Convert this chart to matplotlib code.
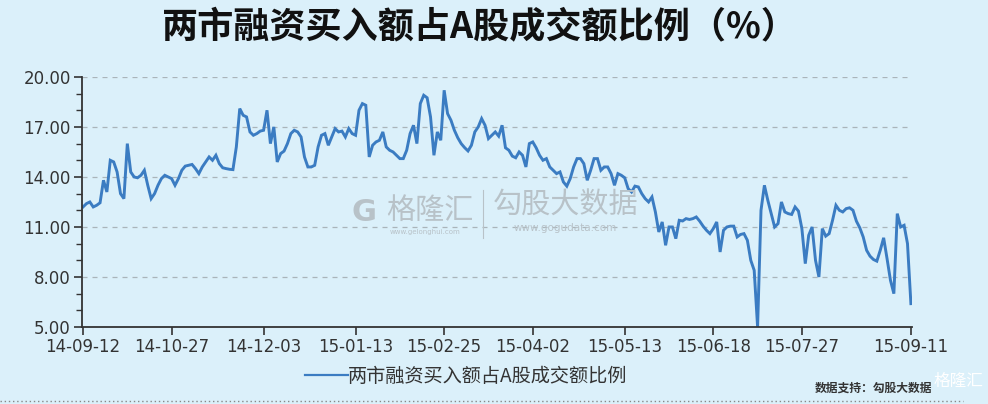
import matplotlib
matplotlib.use('Agg')
import matplotlib.pyplot as plt
from matplotlib.lines import Line2D
from matplotlib.ticker import FixedLocator, MultipleLocator, FormatStrFormatter
import numpy as np
import pandas as pd

plt.rcParams['font.family'] = ['Noto Sans CJK SC', 'DejaVu Sans']

# A-share trading calendar, Sep 2014 - Sep 2015
holidays = ['2014-10-01', '2014-10-02', '2014-10-03', '2014-10-06', '2014-10-07',
            '2015-01-01', '2015-01-02',
            '2015-02-18', '2015-02-19', '2015-02-20', '2015-02-23', '2015-02-24',
            '2015-04-06', '2015-05-01', '2015-06-22', '2015-09-03', '2015-09-04']

tick_dates = ['2014-09-12', '2014-10-27', '2014-12-03', '2015-01-13', '2015-02-25',
              '2015-04-02', '2015-05-13', '2015-06-18', '2015-07-27', '2015-09-11']

y_ticks = [5, 8, 11, 14, 17, 20]

# margin buying as % of A-share turnover, one value per trading day
ratio = [
    12.2, 12.4, 12.5, 12.2, 12.3, 12.45, 13.8, 13.1, 15.0, 14.9,
    14.3, 13.0, 12.7, 16.0, 14.3, 14.0, 13.95, 14.1, 14.4, 13.5,
    12.7, 13.0, 13.5, 13.9, 14.1, 14.0, 13.9, 13.5, 13.9, 14.4,
    14.65, 14.7, 14.75, 14.5, 14.2, 14.6, 14.9, 15.2, 15.0, 15.3,
    14.8, 14.55, 14.5, 14.46, 14.44, 15.8, 18.1, 17.7, 17.6, 16.7,
    16.5, 16.6, 16.75, 16.8, 18.0, 16.0, 17.0, 14.9, 15.4, 15.55,
    16.0, 16.6, 16.8, 16.7, 16.4, 15.2, 14.6, 14.6, 14.7, 15.8,
    16.5, 16.6, 15.9, 16.4, 16.9, 16.7, 16.75, 16.4, 16.9, 16.6,
    16.5, 18.0, 18.4, 18.3, 15.2, 15.9, 16.1, 16.2, 16.7, 15.8,
    15.6, 15.5, 15.3, 15.1, 15.1, 15.6, 16.6, 17.1, 16.0, 18.4,
    18.9, 18.75, 17.6, 15.3, 16.7, 16.2, 19.2, 17.8, 17.4, 16.8,
    16.35, 16.0, 15.76, 15.56, 15.9, 16.7, 17.0, 17.5, 17.1, 16.3,
    16.5, 16.7, 16.45, 17.1, 15.75, 15.6, 15.25, 15.15, 15.5, 15.3,
    14.6, 16.0, 16.1, 15.75, 15.3, 15.0, 15.1, 14.6, 14.4, 14.2,
    14.3, 13.7, 13.45, 13.9, 14.6, 15.1, 15.1, 14.8, 13.8, 14.4,
    15.1, 15.1, 14.4, 14.6, 14.6, 14.2, 13.5, 14.2, 14.1, 13.95,
    13.3, 13.1, 13.45, 13.4, 13.0, 12.7, 12.5, 12.8, 11.9, 10.7,
    11.3, 9.9, 11.0, 11.0, 10.3, 11.4, 11.36, 11.5, 11.45, 11.5,
    11.6, 11.35, 11.05, 10.8, 10.6, 10.9, 11.3, 9.5, 10.8, 11.0,
    11.05, 11.05, 10.4, 10.55, 10.6, 10.2, 9.0, 8.4, 5.0, 12.0,
    13.5, 12.6, 11.8, 11.0, 11.2, 12.5, 11.9, 11.8, 11.75, 12.2,
    11.95, 10.9, 8.8, 10.5, 11.0, 9.0, 8.0, 10.9, 10.45, 10.6,
    11.4, 12.3, 12.0, 11.9, 12.1, 12.15, 12.0, 11.35, 10.95, 10.4,
    9.6, 9.25, 9.05, 8.95, 9.6, 10.35, 9.1, 7.8, 7.0, 11.8,
    11.0, 11.1, 10.0, 6.4,
]

series_name = '两市融资买入额占A股成交额比例'
title = '两市融资买入额占A股成交额比例（%）'

days = pd.bdate_range('2014-09-12', '2015-09-11')
days = days[~days.isin(pd.to_datetime(holidays))]
x = np.arange(len(days))
tick_pos = days.get_indexer(pd.to_datetime(tick_dates))
tick_lab = [d.strftime('%y-%m-%d') for d in pd.to_datetime(tick_dates)]

bg = '#dbf0fa'
line_c = '#3b7cc2'
dark = '#333333'

fig = plt.figure(figsize=(9.88, 4.04), dpi=100, facecolor=bg)
ax = fig.add_axes([0.083, 0.1906, 0.840, 0.619], facecolor=bg)

ax.plot(x, ratio, color=line_c, lw=2.1, solid_joinstyle='miter')

ax.set_ylim(5, 20)
ax.set_xlim(-0.3, len(x) - 0.7)
ax.yaxis.set_major_locator(FixedLocator(y_ticks))
ax.yaxis.set_minor_locator(MultipleLocator(1))
ax.yaxis.set_major_formatter(FormatStrFormatter('%.2f'))
ax.set_xticks(tick_pos)
ax.set_xticklabels(tick_lab)

for s in ['top', 'right']:
    ax.spines[s].set_visible(False)
for s in ['left', 'bottom']:
    ax.spines[s].set_color(dark)
    ax.spines[s].set_linewidth(1.3)

ax.tick_params(axis='both', which='major', length=6, width=1.2, color=dark,
               labelsize=12, labelcolor=dark, pad=2)
ax.tick_params(axis='y', which='minor', length=4, width=1.0, color=dark)
for lab in ax.get_xticklabels() + ax.get_yticklabels():
    lab.set_fontfamily('DejaVu Sans')

ax.grid(axis='y', which='major', color='#aab4ba', ls=(0, (4, 4)), lw=0.9)
ax.set_axisbelow(True)

fig.text(0.486, 0.93, title, ha='center', va='center', fontsize=26,
         fontweight='bold', color='#111111')

# watermark
wm = '#b8c2c8'
fig.text(0.368, 0.475, 'G', ha='center', va='center', fontsize=22,
         fontweight='bold', color=wm, family='DejaVu Sans')
fig.text(0.435, 0.478, '格隆汇', ha='center', va='center', fontsize=21, color=wm)
fig.text(0.43, 0.425, 'www.gelonghui.com', ha='center', va='center', fontsize=5,
         color=wm, family='DejaVu Sans')
fig.add_artist(Line2D([0.489, 0.489], [0.41, 0.53], color=wm, lw=0.8))
fig.text(0.572, 0.49, '勾股大数据', ha='center', va='center', fontsize=21, color=wm)
fig.text(0.572, 0.435, 'www.gogudata.com', ha='center', va='center', fontsize=7.5,
         color=wm, family='DejaVu Sans')

ax.legend([Line2D([], [], color=line_c, lw=1.6)], [series_name],
          loc='upper center', bbox_to_anchor=(0.463, -0.085), frameon=False,
          fontsize=13.8, handlelength=2.2, handletextpad=0.0,
          labelcolor=dark)

fig.add_artist(Line2D([0.0, 0.975], [0.008, 0.008], color='#888888', lw=1.0,
                      ls=(0, (1, 2))))
fig.text(0.825, 0.04, '数据支持：勾股大数据', ha='left', va='center', fontsize=8.5,
         fontweight='bold', color=dark)
fig.text(0.97, 0.055, '格隆汇', ha='center', va='center', fontsize=12,
         color='white')

fig.savefig('out.png', dpi=100, facecolor=bg)
